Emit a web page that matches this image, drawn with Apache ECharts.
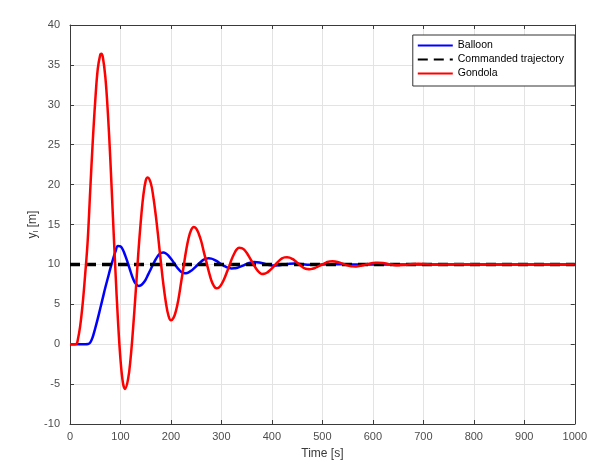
<!DOCTYPE html>
<html><head><meta charset="utf-8">
<script src="https://cdn.jsdelivr.net/npm/echarts@6/dist/echarts.min.js"></script>
<style>html,body{margin:0;padding:0;background:#fff}#c{width:590px;height:465px}</style>
</head><body><div id="c"></div>
<script>
const gondolaT = [0,5,10,13,15,20,25,30,35,40,45,50,55,60,62,65,70,75,80,85,90,95,100,105,109,115,120,125,130,135,140,145,150,154,160,165,170,175,180,185,190,195,200,205,210,215,220,225,230,235,240,245,250,255,260,265,270,275,280,285,290,295,300,305,310,315,320,325,330,335,340,345,350,355,360,365,370,375,380,385,390,395,400,405,410,415,420,425,430,435,440,445,450,455,460,465,470,475,480,485,490,495,500,505,510,515,520,525,530,535,540,545,550,555,560,565,570,575,580,585,590,595,600,605,610,620,630,640,650,660,670,680,690,700,720,740,760,780,800,850,900,950,1000];
const gondolaY = [0,0,0,0.05,0.4,2.2,5,8.7,12.9,19.2,25.3,30.5,34.5,36.3,36.4,36,33.5,29,23,16,9.2,3,-1.9,-4.9,-5.6,-4.4,-1.8,2.0,6.4,11.1,15.2,18.5,20.5,20.9,20.2,18.5,16.1,13.3,10.3,7.5,5.2,3.6,3.0,3.3,4.2,5.7,7.7,9.7,11.7,13.3,14.3,14.7,14.5,13.85,12.9,11.6,10.35,9.1,8.0,7.3,7.0,7.1,7.5,8.1,8.9,9.7,10.6,11.3,11.85,12.1,12.05,11.85,11.45,10.95,10.4,9.85,9.35,9.0,8.8,8.82,8.95,9.2,9.5,9.85,10.2,10.5,10.75,10.88,10.9,10.85,10.7,10.5,10.2,9.95,9.7,9.5,9.42,9.4,9.45,9.55,9.7,9.85,10.0,10.15,10.3,10.38,10.4,10.37,10.3,10.2,10.1,9.98,9.88,9.8,9.76,9.75,9.77,9.82,9.9,9.97,10.05,10.12,10.17,10.2,10.2,10.17,10.05,9.95,9.9,9.92,9.98,10.05,10.07,10.05,9.97,9.98,10.02,10.01,10,10,10,10,10];
const balloonT = [0,10,20,30,36,40,45,50,55,60,65,70,75,80,85,90,95,100,105,110,115,120,125,130,136,140,145,150,155,160,165,170,175,180,185,190,195,200,205,210,215,220,225,230,235,240,245,250,255,260,265,270,275,280,285,290,295,300,305,310,315,320,325,330,335,340,345,350,355,360,365,375,385,395,405,415,425,435,445,455,470,490,510,530,560,600,700,800,900,1000];
const balloonY = [0,0,0,0,0.02,0.2,0.9,2.0,3.2,4.5,5.8,7.1,8.3,9.5,10.6,11.6,12.3,12.25,11.8,11.0,10.1,9.1,8.2,7.6,7.3,7.37,7.65,8.1,8.75,9.4,10.05,10.65,11.15,11.43,11.5,11.37,11.1,10.7,10.28,9.8,9.4,9.08,8.92,8.9,9.0,9.2,9.47,9.77,10.08,10.37,10.59,10.72,10.77,10.72,10.61,10.44,10.24,10.01,9.82,9.65,9.54,9.5,9.51,9.56,9.66,9.78,9.92,10.05,10.17,10.25,10.3,10.25,10.08,9.92,9.85,9.9,10.0,10.08,10.1,10.05,9.97,9.97,10.02,10.02,10,10,10,10,10,10];
const commandT = [0,1000];
const commandY = [10,10];
const xTicks = [0,100,200,300,400,500,600,700,800,900,1000];
const yTicks = [-10,-5,0,5,10,15,20,25,30,35,40];

const zip = (a,b)=>a.map((v,i)=>[v,b[i]]);
const axColor = '#3a3a3a';
const lblColor = '#4d4d4d';
const font = 'Liberation Sans, Arial, sans-serif';
const tickCfg = {inside:true,length:4,lineStyle:{color:axColor}};
const chart = echarts.init(document.getElementById('c'));
chart.setOption({
  animation:false,
  grid:{left:70,right:11,top:25,bottom:38,show:false},
  legend:{
    data:['Balloon','Commanded trajectory','Gondola'],
    orient:'vertical', right:15, top:35,
    backgroundColor:'#fff', borderColor:'#333', borderWidth:1,
    padding:[5,11,7,4], itemWidth:35, itemHeight:12, itemGap:3,
    itemStyle:{opacity:0},
    textStyle:{fontFamily:font,fontSize:10.5,color:'#000'}
  },
  xAxis:[{type:'value',min:0,max:1000,interval:100,
    name:'Time [s]',nameLocation:'middle',nameGap:24,
    nameTextStyle:{fontFamily:font,fontSize:12,color:axColor},
    axisLine:{onZero:false,lineStyle:{color:axColor}},
    axisTick:tickCfg,
    axisLabel:{fontFamily:font,fontSize:11,color:lblColor,margin:7,formatter:v=>xTicks.includes(v)?String(v):''},
    splitLine:{show:true,lineStyle:{color:'#e3e3e3'}}},
    {type:'value',position:'top',min:0,max:1000,interval:100,
    axisLine:{show:true,onZero:false,lineStyle:{color:axColor}},axisTick:tickCfg,axisLabel:{show:false},splitLine:{show:false}}],
  yAxis:[{type:'value',min:-10,max:40,interval:5,
    name:'{a|y}{s|l}{a| [m]}',nameLocation:'middle',nameGap:30,nameRotate:90,nameMoveOverlap:false,
    nameTextStyle:{rich:{a:{fontFamily:font,fontSize:12,color:axColor},s:{fontFamily:font,fontSize:8,color:axColor,verticalAlign:'bottom',padding:[6,0,0,0]}}},
    axisLine:{onZero:false,lineStyle:{color:axColor}},
    axisTick:tickCfg,
    axisLabel:{fontFamily:font,fontSize:11,color:lblColor,margin:10,formatter:v=>yTicks.includes(v)?String(v):''},
    splitLine:{show:true,lineStyle:{color:'#e3e3e3'}}},
    {type:'value',position:'right',min:-10,max:40,interval:5,
    axisLine:{show:true,onZero:false,lineStyle:{color:axColor}},axisTick:tickCfg,axisLabel:{show:false},splitLine:{show:false}}],
  series:[
    {name:'Balloon',type:'line',data:zip(balloonT,balloonY),symbol:'none',smooth:0.4,
     lineStyle:{color:'#0000ff',width:2.5},itemStyle:{color:'#0000ff'}},
    {name:'Commanded trajectory',type:'line',data:zip(commandT,commandY),symbol:'none',
     lineStyle:{color:'#000',width:3.5,type:[10,6]},itemStyle:{color:'#000'}},
    {name:'Gondola',type:'line',data:zip(gondolaT,gondolaY),symbol:'none',smooth:0.4,
     lineStyle:{color:'#ff0000',width:2.5},itemStyle:{color:'#ff0000'}}
  ]
});
</script></body></html>
